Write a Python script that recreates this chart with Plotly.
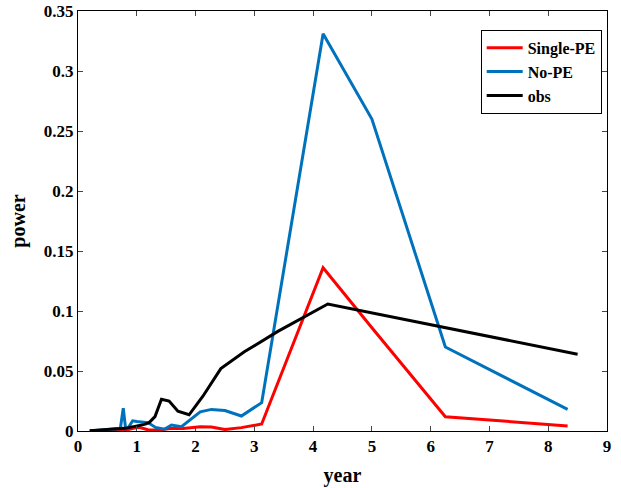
import plotly.graph_objects as go

# Single-PE series
single_x = [0.2, 0.5, 0.8, 0.96, 1.04, 1.19, 1.39, 1.56, 1.79, 2.08, 2.27, 2.5, 2.78, 3.125, 4.17, 5.0, 6.25, 8.33]
single_y = [0.0, 0.0002, 0.0005, 0.0025, 0.003, 0.001, 0.0008, 0.002, 0.002, 0.0035, 0.0033, 0.0012, 0.0028, 0.0058, 0.136, 0.086, 0.0119, 0.0042]

# No-PE series
nope_x = [0.2, 0.4, 0.55, 0.65, 0.72, 0.77, 0.81, 0.86, 0.93, 1.0, 1.09, 1.19, 1.32, 1.47, 1.59, 1.76, 2.08, 2.27, 2.5, 2.78, 3.125, 4.17, 5.0, 6.25, 8.33]
nope_y = [0.0, 0.0008, 0.001, 0.002, 0.002, 0.019, 0.002, 0.003, 0.0085, 0.008, 0.0078, 0.007, 0.003, 0.0015, 0.005, 0.0036, 0.016, 0.018, 0.017, 0.0125, 0.0236, 0.331, 0.26, 0.070, 0.018]

# obs series
obs_x = [0.2, 0.3, 0.43, 0.6, 0.8, 0.97, 1.13, 1.21, 1.31, 1.42, 1.55, 1.7, 1.89, 2.125, 2.43, 2.83, 3.4, 4.25, 5.67, 8.5]
obs_y = [0.0003, 0.0008, 0.0014, 0.0017, 0.0022, 0.004, 0.0055, 0.007, 0.012, 0.0265, 0.025, 0.0165, 0.0135, 0.029, 0.052, 0.066, 0.083, 0.1058, 0.092, 0.064]

x_ticks = [0, 1, 2, 3, 4, 5, 6, 7, 8, 9]
y_ticks = [0, 0.05, 0.1, 0.15, 0.2, 0.25, 0.3, 0.35]
y_tick_text = ["0", "0.05", "0.1", "0.15", "0.2", "0.25", "0.3", "0.35"]

font_family = "Liberation Serif"

fig = go.Figure()
fig.add_trace(go.Scatter(x=single_x, y=single_y, mode="lines", name="<b>Single-PE</b>",
                         line=dict(color="#ff0000", width=3)))
fig.add_trace(go.Scatter(x=nope_x, y=nope_y, mode="lines", name="<b>No-PE</b>",
                         line=dict(color="#0072bd", width=3)))
fig.add_trace(go.Scatter(x=obs_x, y=obs_y, mode="lines", name="<b>obs</b>",
                         line=dict(color="#000000", width=3)))

fig.update_layout(
    width=621, height=488,
    margin=dict(l=78, r=14, t=11, b=57),
    paper_bgcolor="white", plot_bgcolor="white",
    font=dict(family=font_family, size=17, color="black"),
    showlegend=True,
    legend=dict(x=0.99, y=0.955, xanchor="right", yanchor="top",
                bgcolor="white", bordercolor="black", borderwidth=1,
                font=dict(family=font_family, size=16, color="black"),
                tracegroupgap=0, itemwidth=36),
    xaxis=dict(range=[0, 9], tickvals=x_ticks, ticks="inside", ticklen=5,
               showline=True, linecolor="black", linewidth=1, mirror="ticks",
               showgrid=False, zeroline=False, automargin=False,
               ticklabeloverflow="allow",
               tickfont=dict(family=font_family, size=17, color="black", weight="bold"),
               title=dict(text="<b>year</b>", font=dict(family=font_family, size=20), standoff=12)),
    yaxis=dict(range=[0, 0.35], tickvals=y_ticks, ticktext=y_tick_text, ticks="inside", ticklen=5,
               showline=True, linecolor="black", linewidth=1, mirror="ticks",
               showgrid=False, zeroline=False, automargin=False,
               ticklabeloverflow="allow", ticksuffix="\u00a0\u00a0",
               tickfont=dict(family=font_family, size=17, color="black", weight="bold"),
               title=dict(text="<b>power</b>", font=dict(family=font_family, size=20), standoff=12)),
)

# remove the default 8px page margin so the figure fills the window exactly
fig.write_html("out.html", config={"displayModeBar": False},
               post_script="document.body.style.margin='0';document.body.style.overflow='hidden';")
